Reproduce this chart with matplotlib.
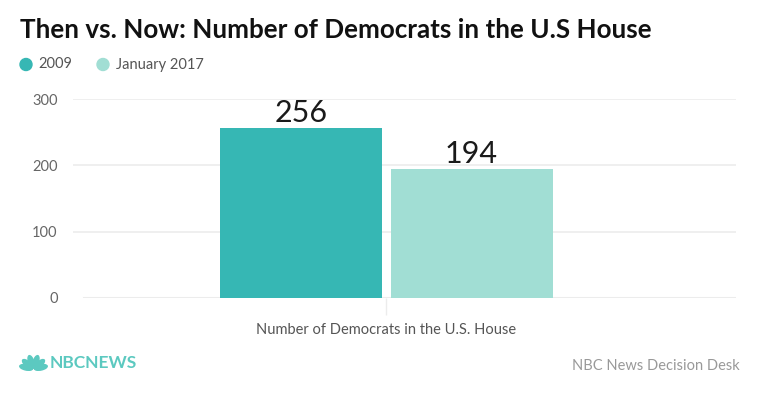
import matplotlib
matplotlib.use("Agg")
import matplotlib.pyplot as plt
from matplotlib.patches import Ellipse

categories = ["Number of Democrats in the U.S. House"]
series_names = ["2009", "January 2017"]
values_2009 = [256]
values_2017 = [194]
yticks = [0, 100, 200, 300]

colors = ["#36b7b4", "#a1ded4"]

plt.rcParams['font.family'] = ['Lato', 'DejaVu Sans']

W, H = 760, 399
fig = plt.figure(figsize=(W / 100, H / 100), dpi=100)

def fx(px):
    return px / W

def fy(py):
    return 1 - py / H

ax_l, ax_r, ax_t, ax_b = 73, 736, 99.3, 297.7
ax = fig.add_axes([fx(ax_l), fy(ax_b), fx(ax_r - ax_l), (ax_b - ax_t) / H])

w = 0.4
off = 0.21
xs = list(range(len(categories)))
series = [values_2009, values_2017]
for i, vals in enumerate(series):
    pos = [x + (i - 0.5) * 2 * off for x in xs]
    bars = ax.bar(pos, vals, width=w, color=colors[i], zorder=3, linewidth=0)
    for b, v in zip(bars, vals):
        ax.text(b.get_x() + b.get_width() / 2, v + 2, str(v), ha='center', va='bottom',
                fontsize=22, color='#1a1a1a', zorder=4)

ax.set_xlim(-0.774, 0.863)
ax.set_ylim(0, 300)
ax.set_yticks(yticks)
ax.set_yticklabels([str(t) for t in yticks], fontsize=10.5, color='#666666')
for t in yticks[1:]:
    ax.axhline(t, color='#ececec', linewidth=1.2, zorder=1)
ax.axhline(0, xmin=(84 - ax_l) / (ax_r - ax_l), color='#ececec', linewidth=1.5, zorder=1)
ax.tick_params(axis='y', length=0, pad=11)
ax.set_xticks(xs)
ax.set_xticklabels(categories, fontsize=10.5, color='#555555')
ax.tick_params(axis='x', length=12, color='#ececec', width=1, pad=6)
for s in ax.spines.values():
    s.set_visible(False)
ax.patch.set_alpha(0)

# Title
fig.text(fx(20), fy(30), "Then vs. Now: Number of Democrats in the U.S House",
         fontsize=18.7, fontweight='bold', color='#111111', ha='left', va='center')

# Legend
lx = [26, 103]
for i, name in enumerate(series_names):
    fig.patches.append(Ellipse((fx(lx[i]), fy(64.5)), width=12 / W, height=12 / H,
                               transform=fig.transFigure, color=colors[i]))
fig.text(fx(38), fy(64.5), series_names[0], fontsize=10.5, color='#555555', va='center')
fig.text(fx(116), fy(64.5), series_names[1], fontsize=10.5, color='#555555', va='center')

# NBC logo (peacock + wordmark)
logo_c = "#5cc9c0"
fan_ax = fig.add_axes([fx(19), fy(371), fx(29), 17 / H])
fan_ax.set_xlim(-14.5, 14.5)
fan_ax.set_ylim(-2, 15)
fan_ax.set_aspect('equal')
fan_ax.axis('off')
import math
feather_angles = [12, 40, 72, 108, 140, 168]
for a in feather_angles:
    r = 7.5
    cx = r * math.cos(math.radians(a))
    cy = r * math.sin(math.radians(a))
    fan_ax.add_patch(Ellipse((cx, cy), width=13, height=5.2, angle=a, color=logo_c))
fig.text(fx(50), fy(363), "NBCNEWS", fontsize=12.5, fontweight='bold', color=logo_c,
         va='center', ha='left')

fig.text(fx(740), fy(366), "NBC News Decision Desk", fontsize=10.5, color='#999999',
         ha='right', va='center')

fig.savefig("out.png", dpi=100)
